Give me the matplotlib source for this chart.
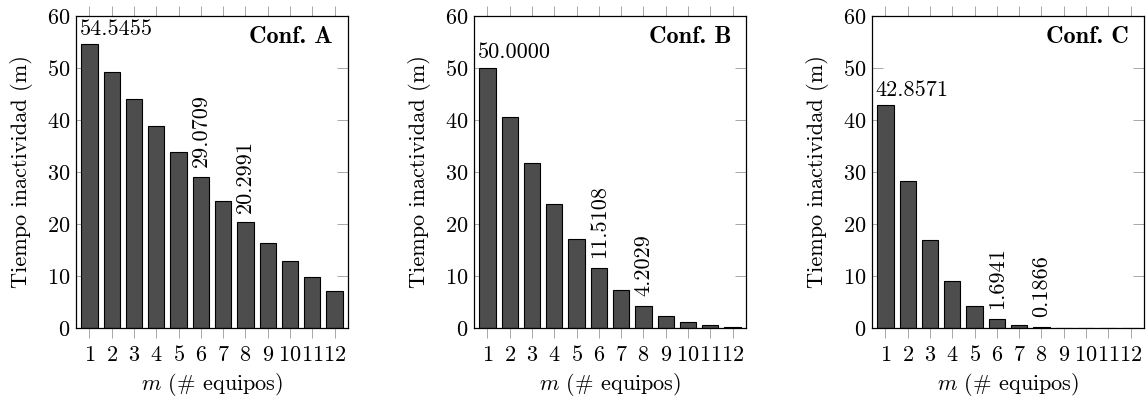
import matplotlib
matplotlib.use('Agg')
import matplotlib.pyplot as plt

plt.rcParams['font.family'] = ['cmr10', 'DejaVu Serif']
plt.rcParams['mathtext.fontset'] = 'cm'
plt.rcParams['axes.formatter.use_mathtext'] = True
plt.rcParams['font.size'] = 16

m = list(range(1, 13))
conf_a = [54.5455, 49.2, 44.0, 38.8, 33.9, 29.0709, 24.5, 20.2991, 16.4, 12.9, 9.8, 7.2]
conf_b = [50.0, 40.5, 31.8, 23.9, 17.1, 11.5108, 7.25, 4.2029, 2.3, 1.15, 0.55, 0.25]
conf_c = [42.8571, 28.3, 17.0, 9.0, 4.25, 1.6941, 0.65, 0.1866, 0.05, 0.02, 0.01, 0.005]
names = ['Conf. A', 'Conf. B', 'Conf. C']
label_bars = [1, 6, 8]   # bars with printed values

fig = plt.figure(figsize=(11.46, 4), dpi=100)
lefts = [76, 474, 872]
width = 0.73

for left, vals, name in zip(lefts, [conf_a, conf_b, conf_c], names):
    ax = fig.add_axes([left / 1146, 0.18, 272 / 1146, 0.78])
    ax.bar(m, vals, width=width, color='#4d4d4d', edgecolor='black', linewidth=0.8, zorder=2)
    ax.set_xlim(0.4, 12.6)
    ax.set_ylim(0, 60)
    ax.set_xticks(m)
    ax.set_yticks(range(0, 61, 10))
    ax.set_axisbelow(True)
    ax.tick_params(axis='x', direction='out', top=True, length=7.5, width=0.6,
                   color='#999999', pad=5)
    ax.tick_params(axis='y', direction='in', right=True, length=8, width=0.6,
                   color='#999999', pad=4)
    for sp in ax.spines.values():
        sp.set_linewidth(0.9)
    ax.set_ylabel('Tiempo inactividad (m)', labelpad=10)
    ax.set_xlabel('$m$ (# equipos)', labelpad=4)
    ax.text(0.945, 0.968, name, transform=ax.transAxes, ha='right', va='top',
            family='cmb10', fontsize=17.5)

    for b in label_bars:
        v = vals[b - 1]
        if b == 1:
            ax.annotate('%.4f' % v, (b - width / 2, v), xytext=(-1, 4),
                        textcoords='offset points', ha='left', va='bottom')
        else:
            ax.annotate('%.4f' % v, (b, v), xytext=(0, 7),
                        textcoords='offset points', ha='center', va='bottom',
                        rotation=90)

fig.savefig('out.png', dpi=100)
